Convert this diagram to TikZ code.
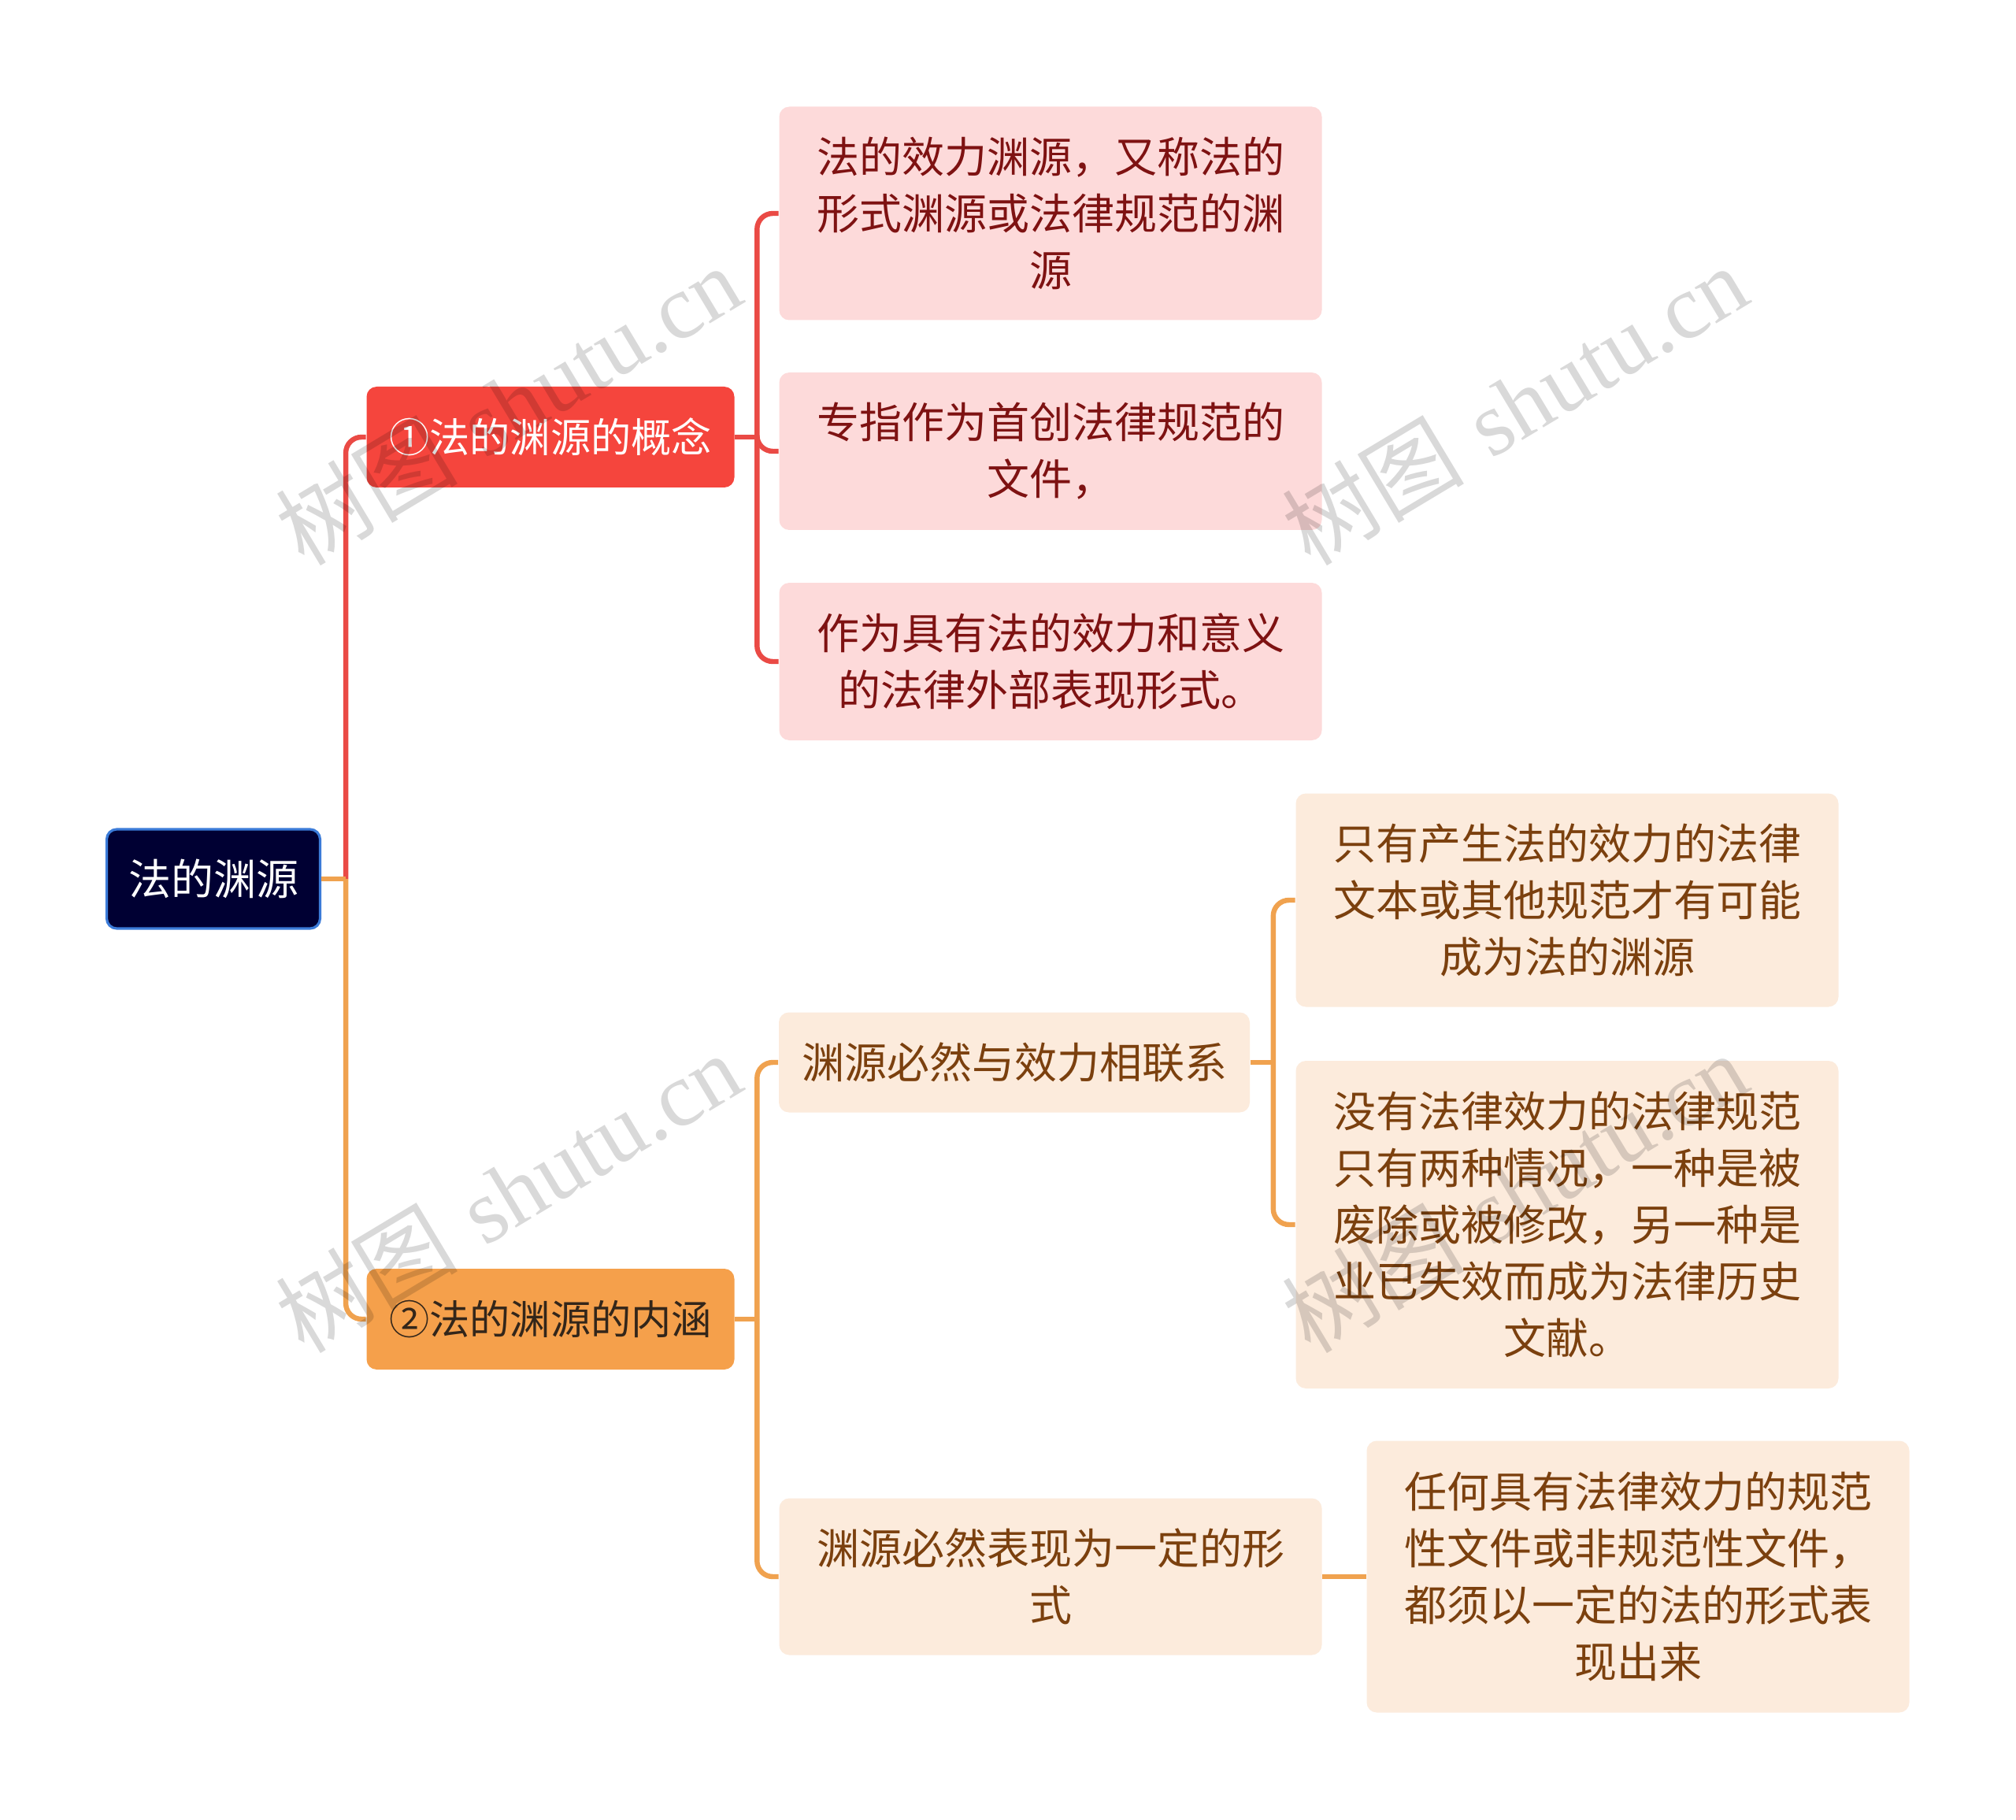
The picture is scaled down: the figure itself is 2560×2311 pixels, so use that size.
\documentclass[tikz,border=0pt]{standalone}
\usepackage{fontspec}
\newfontfamily\cjk{Noto Sans CJK SC}
\newfontfamily\wmserif{Liberation Serif}
\usetikzlibrary{calc}
\definecolor{rootfill}{HTML}{000033}
\definecolor{rootborder}{HTML}{3B7BD8}
\definecolor{bonefill}{HTML}{F5453D}
\definecolor{btwofill}{HTML}{F5A04B}
\definecolor{pinkfill}{HTML}{FDDADA}
\definecolor{pinktext}{HTML}{7E1212}
\definecolor{creamfill}{HTML}{FCEBDC}
\definecolor{browntext}{HTML}{7B400E}
\definecolor{redline}{HTML}{EA4A45}
\definecolor{orangeline}{HTML}{F0A24F}
\definecolor{darktext}{HTML}{33261A}
\begin{document}
\begin{tikzpicture}[x=0.25pt,y=-0.25pt,
  every node/.style={inner sep=0pt, align=center, font=\cjk\fontsize{13.5pt}{18pt}\selectfont},
  rootbox/.style={fill=rootfill, draw=rootborder, line width=0.8pt, rounded corners=3.2pt, text=white, minimum width=67.75pt, minimum height=31.5pt},
  bonebox/.style={fill=bonefill, rounded corners=3.2pt, text=white, minimum width=116.75pt, minimum height=32pt, font=\cjk\fontsize{12.8pt}{18pt}\selectfont},
  btwobox/.style={fill=btwofill, rounded corners=3.2pt, text=darktext, minimum width=116.75pt, minimum height=32pt, font=\cjk\fontsize{12.8pt}{18pt}\selectfont},
  pinkbox/.style={fill=pinkfill, rounded corners=3.2pt, text=pinktext, minimum width=172.25pt},
  creambox/.style={fill=creamfill, rounded corners=3.2pt, text=browntext, minimum width=172.25pt},
  rline/.style={draw=redline, line width=1.6pt, rounded corners=5pt},
  oline/.style={draw=orangeline, line width=1.6pt, rounded corners=5pt},
  watermark/.style={rotate=31, text=black, text opacity=0.15, font=\fontsize{29pt}{29pt}\selectfont}
]
\useasboundingbox (0,0) rectangle (2560,2311);
\fill[white] (0,0) rectangle (2560,2311);

% nodes
\node[rootbox] (root) at (271,1116) {法的渊源};
\node[bonebox] (b1) at (699,555) {①法的渊源的概念};
\node[btwobox] (b2) at (699,1675) {②法的渊源的内涵};

\node[pinkbox, minimum height=67.75pt] (l1a) at (1334,271) {法的效力渊源，又称法的\\形式渊源或法律规范的渊\\源};
\node[pinkbox, minimum height=50pt] (l1b) at (1334,573) {专指作为首创法律规范的\\文件，};
\node[pinkbox, minimum height=50pt] (l1c) at (1334,840) {作为具有法的效力和意义\\的法律外部表现形式。};

\node[creambox, minimum width=149.5pt, minimum height=31.75pt] (l2a) at (1288,1349) {渊源必然与效力相联系};
\node[creambox, minimum height=49.75pt] (l2b) at (1334,2002) {渊源必然表现为一定的形\\式};

\node[creambox, minimum height=67.75pt] (l2aa) at (1990,1143) {只有产生法的效力的法律\\文本或其他规范才有可能\\成为法的渊源};
\node[creambox, minimum height=104pt] (l2ab) at (1990,1555) {没有法律效力的法律规范\\只有两种情况，一种是被\\废除或被修改，另一种是\\业已失效而成为法律历史\\文献。};
\node[creambox, minimum height=86.25pt] (l2ba) at (2080,2002) {任何具有法律效力的规范\\性文件或非规范性文件，\\都须以一定的法的形式表\\现出来};

% junctions
\coordinate (r0) at ($(root.east)+(31,0)$);
\coordinate (j1) at ($(b1.east)+(28,0)$);
\coordinate (j2) at ($(b2.east)+(28,0)$);
\coordinate (j3) at ($(l2a.east)+(29,0)$);

% connectors
\draw[rline] (r0) |- (b1.west);
\draw[oline] (r0) |- (b2.west);
\draw[oline] (root.east) -- (r0);

\draw[rline] (b1.east) -- (j1);
\draw[rline] (j1) |- (l1a.west);
\draw[rline] (j1) |- (l1b.west);
\draw[rline] (j1) |- (l1c.west);

\draw[oline] (b2.east) -- (j2);
\draw[oline] (j2) |- (l2a.west);
\draw[oline] (j2) |- (l2b.west);

\draw[oline] (l2a.east) -- (j3);
\draw[oline] (j3) |- (l2aa.west);
\draw[oline] (j3) |- (l2ab.west);

\draw[oline] (l2b.east) -- (l2ba.west);

% watermarks
\node[watermark] (wm1) at (645,514) {{\cjk 树图} {\wmserif shutu.cn}};
\node[watermark] (wm2) at (1923,514) {{\cjk 树图} {\wmserif shutu.cn}};
\node[watermark] (wm3) at (645,1514) {{\cjk 树图} {\wmserif shutu.cn}};
\node[watermark] (wm4) at (1923,1514) {{\cjk 树图} {\wmserif shutu.cn}};
\end{tikzpicture}
\end{document}
